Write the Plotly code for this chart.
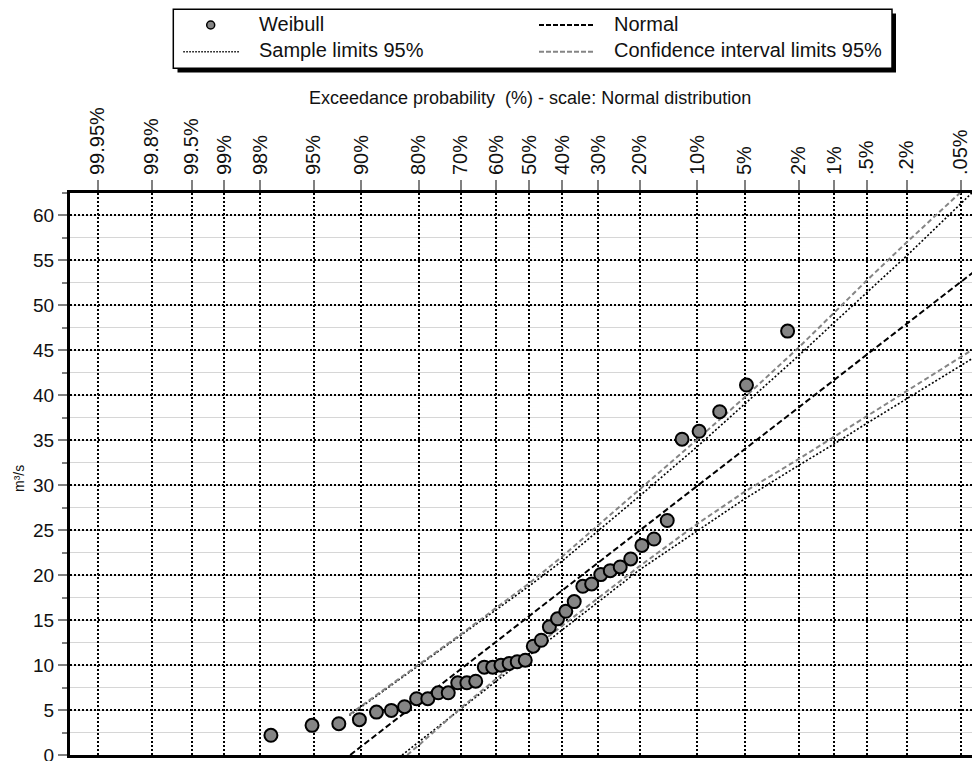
import plotly.graph_objects as go
from statistics import NormalDist

# ---------------- data ----------------
tick_exceed_pct = [99.95, 99.8, 99.5, 99, 98, 95, 90, 80, 70, 60, 50, 40, 30, 20, 10, 5, 2, 1, 0.5, 0.2, 0.05]
tick_labels = ["99.95%", "99.8%", "99.5%", "99%", "98%", "95%", "90%", "80%", "70%", "60%", "50%",
               "40%", "30%", "20%", "10%", "5%", "2%", "1%", ".5%", ".2%", ".05%"]

# observed discharges (m³/s), ascending
flows = [2.19, 3.30, 3.48, 3.93, 4.77, 4.96, 5.37, 6.26, 6.26, 6.92,
         6.92, 8.03, 8.03, 8.21, 9.77, 9.77, 9.99, 10.18, 10.37, 10.54,
         12.10, 12.76, 14.25, 15.14, 15.98, 17.06, 18.76, 19.02, 20.06, 20.50,
         20.91, 21.80, 23.31, 24.02, 26.08, 35.12, 36.00, 38.18, 41.14, 47.14]

# fitted Normal line
normal_pct = [91.4, 50.0, 0.023]
normal_val = [0.0, 15.46, 55.0]

# confidence interval limits 95%
ci_upper_pct = [91.5, 80, 70, 60, 50, 40, 30, 20, 10, 5, 2, 1, 0.5, 0.2, 0.05, 0.03]
ci_upper_val = [4.5, 10.05, 13.4, 16.35, 19.1, 22.1, 25.5, 29.5, 35.1, 39.8, 45.3, 49.2, 52.8, 57.0, 62.6, 64.5]
ci_lower_pct = [82.4, 80, 70, 60, 50, 40, 30, 20, 10, 5, 2, 1, 0.5, 0.2, 0.05, 0.023]
ci_lower_val = [0.0, 1.1, 5.2, 8.5, 11.5, 14.4, 17.4, 21.0, 25.7, 29.3, 32.9, 35.4, 37.7, 40.5, 44.3, 46.2]

# sample limits 95%
sample_upper_pct = [91.5, 80, 70, 60, 50, 40, 30, 20, 10, 5, 2, 1, 0.5, 0.2, 0.05, 0.03]
sample_upper_val = [4.4, 9.97, 13.3, 16.1, 18.8, 21.6, 24.9, 28.8, 34.3, 39.0, 44.4, 48.1, 51.4, 55.5, 61.3, 63.3]
sample_lower_pct = [83.4, 80, 70, 60, 50, 40, 30, 20, 10, 5, 2, 1, 0.5, 0.2, 0.05, 0.023]
sample_lower_val = [0.0, 1.5, 5.1, 8.2, 11.1, 13.95, 17.0, 20.6, 24.9, 28.5, 32.2, 34.6, 36.9, 39.6, 43.3, 45.2]

y_ticks = list(range(0, 61, 5))

# ---------------- helpers ----------------
ND = NormalDist()


def z_of(pct):
    """Normal-probability-scale position of an exceedance probability (%)."""
    return ND.inv_cdf(1.0 - pct / 100.0)


def zs(pcts):
    return [z_of(p) for p in pcts]


n = len(flows)
weibull_pct = [(n + 1 - k) / (n + 1) * 100.0 for k in range(1, n + 1)]

W, H = 980, 761
OFF = 8  # page body margin of the html page
# plot area in screen px
SL, SR, ST, SB = 70, 988, 193, 755
PL, PR, PT, PB = SL - OFF, SR - OFF, ST - OFF, SB - OFF


def fx(px):
    return (px - SL) / (SR - SL)


def fy(py):
    return (SB - py) / (SB - ST)


FONT = "Liberation Sans, Arial, sans-serif"
DOT = dict(color="black", width=1.6, dash="2px,2px")
GRAYDASH = dict(color="#858585", width=2, dash="5px,3px")

fig = go.Figure()

fig.add_trace(go.Scatter(x=zs(sample_upper_pct), y=sample_upper_val, mode="lines", line=DOT,
                         name="Sample limits 95%", showlegend=False, hoverinfo="skip"))
fig.add_trace(go.Scatter(x=zs(sample_lower_pct), y=sample_lower_val, mode="lines", line=DOT,
                         showlegend=False, hoverinfo="skip"))
fig.add_trace(go.Scatter(x=zs(ci_upper_pct), y=ci_upper_val, mode="lines", line=GRAYDASH,
                         name="Confidence interval limits 95%", showlegend=False, hoverinfo="skip"))
fig.add_trace(go.Scatter(x=zs(ci_lower_pct), y=ci_lower_val, mode="lines", line=GRAYDASH,
                         showlegend=False, hoverinfo="skip"))
fig.add_trace(go.Scatter(x=zs(normal_pct), y=normal_val, mode="lines",
                         line=dict(color="black", width=2, dash="6px,3px"),
                         name="Normal", showlegend=False))
fig.add_trace(go.Scatter(x=zs(weibull_pct), y=flows, mode="markers",
                         marker=dict(size=13, color="#858585", line=dict(color="black", width=2)),
                         name="Weibull", showlegend=False))

fig.update_layout(
    width=W, height=H,
    margin=dict(l=PL, r=W - PR, t=PT, b=H - PB, pad=0),
    paper_bgcolor="white", plot_bgcolor="white",
    font=dict(family=FONT, color="#111111"),
    showlegend=False,
)

fig.update_xaxes(
    range=[-3.503, 3.499], side="top",
    tickmode="array", tickvals=zs(tick_exceed_pct), ticktext=tick_labels,
    tickangle=-90, tickfont=dict(size=20, family=FONT, color="#111111"),
    ticks="outside", ticklen=10, tickwidth=2, tickcolor="#808080",
    ticklabelstandoff=1,
    showgrid=True, gridcolor="black", gridwidth=1.5, griddash="2px,2px",
    showline=True, linecolor="black", linewidth=3, mirror=True,
    zeroline=False, automargin=False, fixedrange=True,
)
fig.update_yaxes(
    range=[0, 62.5], tickmode="array", tickvals=y_ticks,
    tickfont=dict(size=19, family=FONT, color="#111111"),
    ticks="outside", ticklen=9, tickwidth=1.5, tickcolor="#808080",
    showgrid=True, gridcolor="black", gridwidth=1.5, griddash="2px,2px",
    minor=dict(dtick=2.5, tick0=0, ticks="outside", ticklen=5, tickwidth=1.5,
               tickcolor="#808080", showgrid=True, gridcolor="#d6d6d6", gridwidth=1,
               griddash="solid"),
    showline=True, linecolor="black", linewidth=3, mirror=False,
    zeroline=False, automargin=False, fixedrange=True,
)

# ---------- titles ----------
fig.add_annotation(text="Exceedance probability  (%) - scale: Normal distribution",
                   xref="paper", yref="paper", x=fx(529.5), y=fy(97.5),
                   xanchor="center", yanchor="middle", showarrow=False,
                   font=dict(size=18, family=FONT, color="#111111"))
fig.add_annotation(text="m³/s", xref="paper", yref="paper", x=fx(19), y=fy(479),
                   xanchor="center", yanchor="middle", showarrow=False, textangle=-90,
                   font=dict(size=14, family=FONT, color="#111111"))

# ---------- legend (drawn box) ----------
shapes = []
shapes.append(dict(type="rect", xref="paper", yref="paper",
                   x0=fx(177.5), x1=fx(896), y0=fy(72.5), y1=fy(13.5),
                   fillcolor="black", line=dict(width=0), layer="above"))
shapes.append(dict(type="rect", xref="paper", yref="paper",
                   x0=fx(173.3), x1=fx(892), y0=fy(68.3), y1=fy(9.3),
                   fillcolor="white", line=dict(color="black", width=1.5), layer="above"))
shapes.append(dict(type="circle", xref="paper", yref="paper",
                   x0=fx(206.7), x1=fx(214.7), y0=fy(29), y1=fy(21),
                   fillcolor="#858585", line=dict(color="black", width=1.5), layer="above"))
shapes.append(dict(type="line", xref="paper", yref="paper",
                   x0=fx(183.3), x1=fx(240), y0=fy(51.7), y1=fy(51.7),
                   line=dict(color="black", width=1.5, dash="1.5px,1.5px"), layer="above"))
shapes.append(dict(type="line", xref="paper", yref="paper",
                   x0=fx(539), x1=fx(594), y0=fy(25), y1=fy(25),
                   line=dict(color="black", width=2, dash="5px,2px"), layer="above"))
shapes.append(dict(type="line", xref="paper", yref="paper",
                   x0=fx(539), x1=fx(594), y0=fy(51.7), y1=fy(51.7),
                   line=dict(color="#858585", width=2, dash="5px,2px"), layer="above"))
fig.update_layout(shapes=shapes)

legend_texts = [("Weibull", 256.7, 24.5), ("Sample limits 95%", 256.7, 50.5),
                ("Normal", 611.7, 24.5), ("Confidence interval limits 95%", 611.7, 50.5)]
for txt, px, py in legend_texts:
    fig.add_annotation(text=txt, xref="paper", yref="paper", x=fx(px), y=fy(py),
                       xanchor="left", yanchor="middle", showarrow=False,
                       font=dict(size=20, family=FONT, color="#111111"))

fig.write_html("out.html")
